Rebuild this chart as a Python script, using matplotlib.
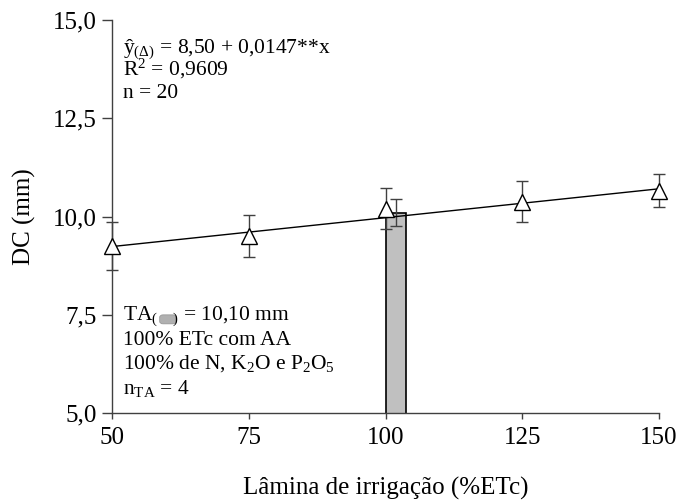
import numpy as np
import matplotlib
matplotlib.use("Agg")
import matplotlib.pyplot as plt
from matplotlib.patches import FancyBboxPatch
from matplotlib.ticker import FuncFormatter

plt.rcParams['font.family'] = ['Liberation Serif', 'DejaVu Serif']
plt.rcParams['mathtext.fontset'] = 'custom'
plt.rcParams['mathtext.rm'] = 'Liberation Serif'
plt.rcParams['mathtext.it'] = 'Liberation Serif:italic'

# data
lamina = [50, 75, 100, 125, 150]
dc_mean = [9.25, 9.50, 10.20, 10.38, 10.65]
dc_err = [0.60, 0.53, 0.52, 0.52, 0.42]

ta_x = [100]
ta_mean = [10.10]
ta_err = [0.35]

b0, b1 = 8.50, 0.0147

gray = '#404040'
f = plt.figure(figsize=(6.8, 5.03), dpi=100)
ax = f.add_axes([112/680, 90/503, 547/680, 393/503])

# testemunha adicional (bar)
bw = 3.7
ax.bar(ta_x, ta_mean, width=bw, align='edge', color='#c0c0c0',
       edgecolor='black', linewidth=1.2, zorder=2)
ax.errorbar([x + bw/2 for x in ta_x], ta_mean, yerr=ta_err, fmt='none',
            ecolor=gray, elinewidth=1, capsize=4, capthick=1, zorder=3)

# regression line
xl = np.array([lamina[0], lamina[-1]])
ax.plot(xl, b0 + b1*xl, color='black', lw=1, zorder=3, clip_on=False)

ax.errorbar(lamina, dc_mean, yerr=dc_err, fmt='^', ms=11, mfc='white',
            mec='black', mew=1, ecolor=gray, elinewidth=1, capsize=4,
            capthick=1, zorder=4, clip_on=False)

ax.set_xlim(50, 150)
ax.set_ylim(5, 15)
ax.set_xticks([50, 75, 100, 125, 150])
ax.set_yticks([5, 7.5, 10, 12.5, 15])
ax.yaxis.set_major_formatter(FuncFormatter(lambda v, p: f"{v:.1f}".replace('.', ',')))
for s in ['top', 'right']:
    ax.spines[s].set_visible(False)
for s in ['left', 'bottom']:
    ax.spines[s].set_color(gray)
    ax.spines[s].set_linewidth(1)
ax.tick_params(axis='x', direction='out', length=4, width=1, color=gray,
               labelsize=18, pad=6)
ax.tick_params(axis='y', direction='out', length=7, width=1, color=gray,
               labelsize=18, pad=4)
ax.set_xlabel("Lâmina de irrigação (%ETc)", fontsize=18, labelpad=20)
ax.set_ylabel("DC (mm)", fontsize=18, labelpad=12)

fs = 15.5
x0 = 0.020
ax.text(x0, 0.916, r"ŷ$_{(\Delta)}$ = 8,50 + 0,0147**x", transform=ax.transAxes,
        fontsize=fs, va='baseline')
ax.text(x0, 0.858, r"R$^2$ = 0,9609", transform=ax.transAxes, fontsize=fs, va='baseline')
ax.text(x0, 0.802, "n = 20", transform=ax.transAxes, fontsize=fs, va='baseline')

ax.text(x0, 0.237, r"TA$_{(\quad\;\,)}$ = 10,10 mm", transform=ax.transAxes,
        fontsize=fs, va='baseline')
helper = ax.text(x0, 0.237, r"TA$_{(}$", transform=ax.transAxes,
                 fontsize=fs, va='baseline', color='none')
ax.text(x0, 0.173, "100% ETc com AA", transform=ax.transAxes, fontsize=fs, va='baseline')
ax.text(x0, 0.112, r"100% de N, K$_2$O e P$_2$O$_5$", transform=ax.transAxes,
        fontsize=fs, va='baseline')
ax.text(x0, 0.048, r"n$_\mathrm{TA}$ = 4", transform=ax.transAxes, fontsize=fs, va='baseline')

# small grey swatch inside the TA subscript
f.canvas.draw()
bb = helper.get_window_extent()
helper.remove()
yb = ax.transAxes.transform((x0, 0.237))[1]
inv = ax.transAxes.inverted()
p0 = inv.transform((bb.x1 + 1.5, yb - 4))
p1 = inv.transform((bb.x1 + 18, yb + 5))
sw = FancyBboxPatch((p0[0], p0[1]), p1[0] - p0[0], p1[1] - p0[1],
                    boxstyle='round,pad=0,rounding_size=0.006', fc='#b0b0b0',
                    ec='#909090', lw=0.5, transform=ax.transAxes, clip_on=False)
ax.add_patch(sw)

f.savefig("out.png", dpi=100)
